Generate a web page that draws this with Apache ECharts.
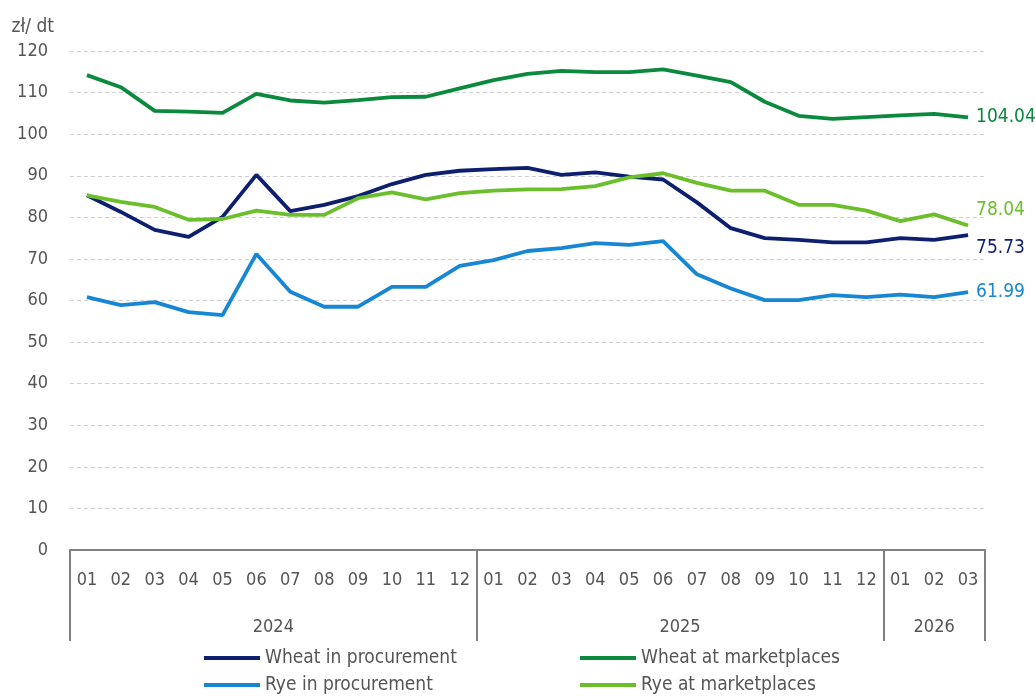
<!DOCTYPE html>
<html>
<head>
<meta charset="utf-8">
<script src="https://cdn.jsdelivr.net/npm/echarts@6/dist/echarts.min.js"></script>
<style>
html,body{margin:0;padding:0;background:#fff;}
#chart{width:1035px;height:697px;}
</style>
</head>
<body>
<div id="chart"></div>
<script>
var months = ['01','02','03','04','05','06','07','08','09','10','11','12',
              '01','02','03','04','05','06','07','08','09','10','11','12',
              '01','02','03'];
var yearLabels = ['2024','2025','2026'];
var yearCenters = [6, 18, 25.5];
var yTicks = [0,10,20,30,40,50,60,70,80,90,100,110,120];

var wheatProcurement = [85.3,81.3,77.0,75.3,80.1,90.2,81.5,83.0,85.1,88.0,90.2,91.2,
                        91.6,91.9,90.2,90.8,89.8,89.1,83.6,77.4,75.0,74.6,74.0,74.0,
                        75.0,74.6,75.73];
var wheatMarket = [114.2,111.3,105.6,105.4,105.1,109.7,108.1,107.6,108.2,108.9,109.0,111.0,
                   113.0,114.5,115.2,114.9,114.9,115.6,114.1,112.5,107.8,104.4,103.7,104.1,
                   104.5,104.9,104.04];
var ryeProcurement = [60.8,58.9,59.6,57.2,56.5,71.2,62.1,58.5,58.5,63.3,63.3,68.3,
                      69.7,71.9,72.6,73.8,73.4,74.3,66.3,62.9,60.1,60.1,61.3,60.8,
                      61.4,60.8,61.99];
var ryeMarket = [85.3,83.7,82.5,79.4,79.6,81.6,80.6,80.6,84.6,86.0,84.3,85.8,
                 86.4,86.7,86.8,87.5,89.6,90.6,88.3,86.4,86.4,83.0,83.0,81.6,
                 79.1,80.7,78.04];

var seriesNames = ['Wheat in procurement','Wheat at marketplaces','Rye in procurement','Rye at marketplaces'];
var colors = ['#0e1f70','#0b8a3e','#1787d4','#6cbf2c'];

var FONT = '"DejaVu Sans Condensed","Liberation Sans Narrow","Roboto",sans-serif';
var GRAY = '#555555';

function mkSeries(name, data, color, offY){
  return {
    name: name, type: 'line', data: data, xAxisIndex: 0, yAxisIndex: 0,
    symbol: 'none', smooth: false,
    lineStyle: {color: color, width: 3.8},
    itemStyle: {color: color},
    endLabel: {
      show: true, color: color, fontSize: 19, fontFamily: FONT, distance: 8,
      offset: [0, offY],
      formatter: function(p){ return Number(p.value).toFixed(2); }
    },
    z: 3
  };
}

function mkLegend(name, left, top){
  return {
    orient: 'horizontal', left: left, top: top, itemWidth: 56, itemHeight: 4, itemGap: 0,
    icon: 'rect', padding: 0,
    data: [name],
    textStyle: {color: GRAY, fontSize: 19, fontFamily: FONT, lineHeight: 22}
  };
}

var chart = echarts.init(document.getElementById('chart'), null, {renderer:'canvas'});
chart.setOption({
  animation: false,
  backgroundColor: '#ffffff',
  textStyle: {fontFamily: FONT},
  grid: {left: 70, right: 50, top: 51, bottom: 147, containLabel: false},
  legend: [
    mkLegend(seriesNames[0], 204, 647),
    mkLegend(seriesNames[2], 204, 674),
    mkLegend(seriesNames[1], 580, 647),
    mkLegend(seriesNames[3], 580, 674)
  ],
  xAxis: [
    {
      type: 'category', data: months, boundaryGap: true, position: 'bottom',
      axisLine: {show: true, lineStyle: {color: '#808080', width: 2}},
      axisTick: {show: true, length: 91, lineStyle: {color: '#808080', width: 2},
        interval: function(i){ return i === 0 || i === 12 || i === 24; }},
      axisLabel: {color: GRAY, fontSize: 18, fontFamily: FONT, margin: 21, interval: 0},
      splitLine: {show: false}
    },
    {
      type: 'value', min: 0, max: 27, interval: 0.5, position: 'bottom', offset: 47,
      axisLine: {show: false}, axisTick: {show: false}, splitLine: {show: false},
      axisLabel: {
        color: GRAY, fontSize: 18, fontFamily: FONT, margin: 21,
        showMinLabel: true, showMaxLabel: true,
        formatter: function(v){
          for (var k = 0; k < yearCenters.length; k++) {
            if (Math.abs(v - yearCenters[k]) < 1e-6) return yearLabels[k];
          }
          return '';
        }
      }
    }
  ],
  yAxis: {
    type: 'value', min: yTicks[0], max: yTicks[yTicks.length-1], interval: 10,
    name: 'zł/ dt', nameLocation: 'end', nameGap: 14,
    nameTextStyle: {color: GRAY, fontSize: 19, fontFamily: FONT, align: 'right', padding: [0, 16, 0, 0]},
    axisLine: {show: false}, axisTick: {show: false},
    axisLabel: {color: GRAY, fontSize: 18, fontFamily: FONT, margin: 22},
    splitLine: {show: true, lineStyle: {color: '#d0d0d0', type: [4, 3], width: 1}}
  },
  series: [
    mkSeries(seriesNames[0], wheatProcurement, colors[0], 13),
    mkSeries(seriesNames[1], wheatMarket, colors[1], 0),
    mkSeries(seriesNames[2], ryeProcurement, colors[2], 0),
    mkSeries(seriesNames[3], ryeMarket, colors[3], -15)
  ]
});
</script>
</body>
</html>
